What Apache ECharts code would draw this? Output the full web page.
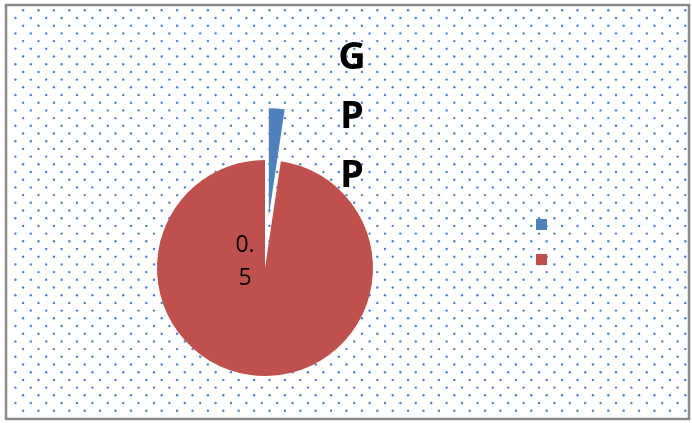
<!DOCTYPE html>
<html>
<head>
<meta charset="utf-8">
<script src="https://cdn.jsdelivr.net/npm/echarts@6/dist/echarts.min.js"></script>
<style>
html,body{margin:0;padding:0;background:#fff;}
#chart{width:692px;height:423px;}
</style>
</head>
<body>
<div id="chart"></div>
<script>
// ---- data ----
const titleText = 'GPP';
const categories = ['1', '2'];
const values = [0.012, 0.5];
const labelShown = [false, true];
const colors = ['#4F81BD', '#C0504D'];

// ---- dotted background (style only) ----
function makeBg() {
  const c = document.createElement('canvas');
  c.width = 692; c.height = 423;
  const g = c.getContext('2d');
  g.fillStyle = '#ffffff';
  g.fillRect(0, 0, 692, 423);
  g.fillStyle = '#4f80c4';
  const step = 15.4, half = 7.7;
  let row = 0;
  for (let y = 10.3; y < 418; y += half, row++) {
    const x0 = (row % 2 === 0) ? 7.7 : 0;
    for (let x = x0; x < 690; x += step) {
      if (x < 8 || y < 7) continue;
      g.beginPath();
      g.arc(x, y, 1.2, 0, Math.PI * 2);
      g.fill();
    }
  }
  return c;
}

const chart = echarts.init(document.getElementById('chart'), null, {renderer: 'canvas'});
const option = {
  backgroundColor: {image: makeBg(), repeat: 'no-repeat'},
  animation: false,
  color: colors,
  title: {
    text: titleText.split('').join('\n'),
    left: 352,
    top: 29,
    padding: 0,
    textAlign: 'center',
    textStyle: {
      fontFamily: 'Open Sans',
      fontWeight: 'bold',
      fontSize: 38,
      lineHeight: 59,
      color: '#000'
    }
  },
  legend: {
    orient: 'vertical',
    left: 536,
    top: 219,
    padding: 0,
    icon: 'rect',
    itemWidth: 11,
    itemHeight: 11,
    itemGap: 24,
    selectedMode: false,
    data: categories,
    formatter: () => '',
    textStyle: {fontSize: 12}
  },
  graphic: [{
    type: 'rect',
    shape: {x: 6, y: 5, width: 683, height: 414},
    style: {fill: 'none', stroke: '#8a8a8a', lineWidth: 2.5},
    silent: true,
    z: 100
  }],
  series: [{
    type: 'pie',
    center: [265, 268],
    radius: 108,
    startAngle: 90,
    clockwise: true,
    selectedMode: 'single',
    selectedOffset: 52,
    avoidLabelOverlap: false,
    labelLine: {show: false},
    itemStyle: {borderColor: '#fff', borderWidth: 0},
    emphasis: {disabled: true},
    data: categories.map((n, i) => ({
      name: n,
      value: values[i],
      selected: i === 0,
      label: {
        show: labelShown[i],
        position: 'center',
        formatter: '{c}',
        offset: [-20, -6],
        width: 22,
        overflow: 'break',
        align: 'center',
        fontFamily: 'Open Sans',
        fontSize: 23,
        lineHeight: 33,
        color: '#000'
      }
    }))
  }]
};
chart.setOption(option);
</script>
</body>
</html>
